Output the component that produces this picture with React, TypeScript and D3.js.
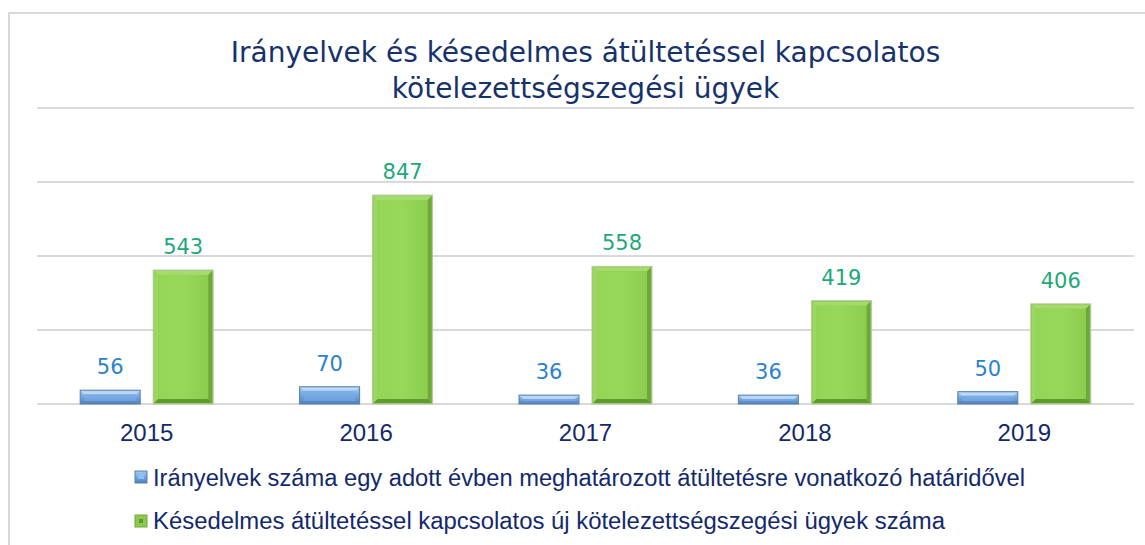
import React from "react";
import * as d3 from "d3";

const years = ["2015", "2016", "2017", "2018", "2019"];
const directives = [56, 70, 36, 36, 50];
const cases = [543, 847, 558, 419, 406];
const yTicks = [0, 300, 600, 900, 1200];
const seriesNames = [
  "Irányelvek száma egy adott évben meghatározott átültetésre vonatkozó határidővel",
  "Késedelmes átültetéssel kapcsolatos új kötelezettségszegési ügyek száma",
];
const titleLines = [
  "Irányelvek és késedelmes átültetéssel kapcsolatos",
  "kötelezettségszegési ügyek",
];

const W = 1145;
const H = 545;
const plotL = 37;
const plotR = 1134;
const plotT = 108;
const plotB = 404;

export default function App() {
  const x0 = d3.scaleBand<string>().domain(years).range([plotL, plotR]).padding(0);
  const bw = x0.bandwidth();
  const groupW = 133;
  const x1 = d3
    .scaleBand<string>()
    .domain(["a", "b"])
    .range([(bw - groupW) / 2, (bw + groupW) / 2])
    .paddingInner(0.178)
    .paddingOuter(0);
  const y = d3.scaleLinear().domain([0, 1200]).range([plotB, plotT]);
  const bwi = x1.bandwidth();

  return (
    <svg
      width={W}
      height={H}
      style={{ position: "absolute", left: 0, top: 0, background: "#fff" }}
    >
      <defs>
        <linearGradient id="blueG" x1="0" y1="0" x2="0" y2="1">
          <stop offset="0" stopColor="#a9cdf0" />
          <stop offset="0.35" stopColor="#7fb0e4" />
          <stop offset="1" stopColor="#4d7fbf" />
        </linearGradient>
        <linearGradient id="greenG" x1="0" y1="0" x2="1" y2="0">
          <stop offset="0" stopColor="#95d556" />
          <stop offset="0.5" stopColor="#97d75a" />
          <stop offset="1" stopColor="#8ccc4e" />
        </linearGradient>
      </defs>
      {/* outer frame */}
      <rect x={9} y={13} width={1200} height={600} fill="none" stroke="#d9d9d9" strokeWidth={2} />
      {/* title */}
      <g fontFamily="DejaVu Sans, Verdana, sans-serif" fontSize={28} fill="#17326b" textAnchor="middle">
        {titleLines.map((t, i) => (
          <text key={i} x={(plotL + plotR) / 2} y={62 + i * 36}>
            {t}
          </text>
        ))}
      </g>
      {/* grid */}
      {yTicks.map((t) => (
        <line key={t} x1={plotL} x2={plotR} y1={y(t)} y2={y(t)} stroke="#d9d9d9" strokeWidth={2} />
      ))}
      {/* bars */}
      {years.map((yr, i) => {
        const gx = x0(yr)!;
        const bx = gx + x1("a")!;
        const gxx = gx + x1("b")!;
        const by = y(directives[i]);
        const gy = y(cases[i]);
        const bh = plotB - by;
        const gh = plotB - gy;
        const ins = 5;
        return (
          <g key={yr}>
            {/* blue bar */}
            <rect x={bx} y={by} width={bwi} height={bh} fill="url(#blueG)" stroke="#5b7ea6" strokeWidth={1} />
            <polygon
              points={`${bx + 1},${by + 1} ${bx + bwi - 1},${by + 1} ${bx + bwi - 4},${by + 4} ${bx + 4},${by + 4}`}
              fill="#c4defa"
              opacity={0.8}
            />
            <rect x={bx + 4} y={by + 4} width={bwi - 8} height={Math.max(0, bh - 7)} fill="#79aee6" opacity={0.6} />
            <text
              x={bx + bwi / 2}
              y={by - 16}
              textAnchor="middle"
              fontFamily="DejaVu Sans, Verdana, sans-serif"
              fontSize={21}
              fill="#2a82cc"
            >
              {directives[i]}
            </text>
            {/* green bar */}
            <rect x={gxx} y={gy} width={bwi} height={gh} fill="#8cc84e" stroke="#b9c7a8" strokeWidth={1} />
            <polygon
              points={`${gxx + 1},${gy + 1} ${gxx + bwi - 1},${gy + 1} ${gxx + bwi - ins},${gy + ins} ${gxx + ins},${gy + ins}`}
              fill="#a3dc6a"
            />
            <polygon
              points={`${gxx + 1},${gy + 1} ${gxx + ins},${gy + ins} ${gxx + ins},${plotB - ins} ${gxx + 1},${plotB - 1}`}
              fill="#9ad860"
            />
            <polygon
              points={`${gxx + bwi - 1},${gy + 1} ${gxx + bwi - ins},${gy + ins} ${gxx + bwi - ins},${plotB - ins} ${gxx + bwi - 1},${plotB - 1}`}
              fill="#6fa83a"
            />
            <polygon
              points={`${gxx + 1},${plotB - 1} ${gxx + ins},${plotB - ins} ${gxx + bwi - ins},${plotB - ins} ${gxx + bwi - 1},${plotB - 1}`}
              fill="#5f9a2e"
            />
            <rect x={gxx + ins} y={gy + ins} width={bwi - 2 * ins} height={Math.max(0, gh - 2 * ins)} fill="url(#greenG)" />
            <text
              x={gxx + bwi / 2}
              y={gy - 16}
              textAnchor="middle"
              fontFamily="DejaVu Sans, Verdana, sans-serif"
              fontSize={21}
              fill="#1ea87a"
            >
              {cases[i]}
            </text>
            {/* year label */}
            <text
              x={gx + bw / 2}
              y={441}
              textAnchor="middle"
              fontFamily="Liberation Sans, Arial, sans-serif"
              fontSize={24}
              fill="#13296b"
            >
              {yr}
            </text>
          </g>
        );
      })}
      {/* legend */}
      <g fontFamily="Liberation Sans, Arial, sans-serif" fontSize={23} fill="#13296b">
        <rect x={135} y={471} width={12} height={12} fill="url(#blueG)" stroke="#5b7ea6" />
        <rect x={138} y={474} width={6} height={5} fill="#8fbff0" />
        <text x={153} y={486} textLength={872} lengthAdjust="spacingAndGlyphs">{seriesNames[0]}</text>
        <rect x={135} y={515} width={12} height={12} fill="#8cc84e" stroke="#6fa83a" />
        <rect x={139} y={519} width={4} height={4} fill="#5f9a2e" />
        <text x={153} y={529} textLength={792} lengthAdjust="spacingAndGlyphs">{seriesNames[1]}</text>
      </g>
    </svg>
  );
}
